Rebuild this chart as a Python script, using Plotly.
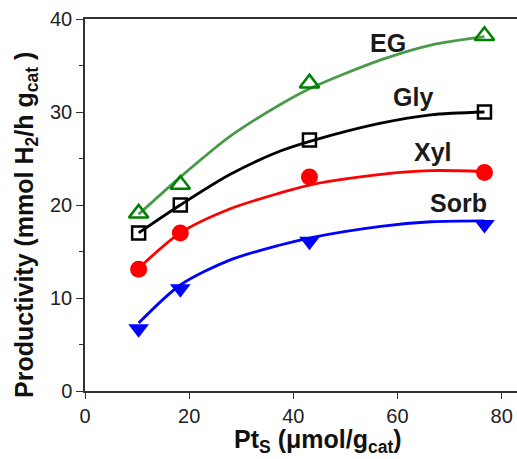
import plotly.graph_objects as go

# measured points
pt_x = [10.3, 18.3, 43.1, 76.7]
eg_y = [19.1, 22.2, 33.1, 38.2]
gly_y = [17.0, 20.0, 27.0, 30.0]
xyl_y = [13.1, 17.0, 23.0, 23.5]
sorb_y = [6.7, 11.0, 16.1, 17.9]

# fitted curves
fit_x = [10.3, 18.3, 27.9, 37.5, 43.5, 56.8, 66.4, 76.7]
eg_fit = [19.0, 23.0, 27.4, 30.8, 32.6, 35.6, 37.2, 38.1]
gly_fit = [17.0, 20.0, 23.3, 25.8, 26.9, 28.8, 29.7, 30.0]
xyl_fit = [13.2, 17.0, 19.6, 21.3, 22.2, 23.3, 23.7, 23.6]
sorb_fit = [7.3, 11.4, 14.1, 15.7, 16.5, 17.7, 18.2, 18.3]

labels = ["EG", "Gly", "Xyl", "Sorb"]
label_x = [58.1, 62.9, 66.8, 71.8]
label_y = [37.4, 31.6, 25.7, 20.2]

x_title = "<b>Pt<sub>S</sub> (\u03bcmol/g<sub>cat</sub>)</b>"
y_title = "<b>Productivity (mmol H<sub>2</sub>/h g<sub>cat</sub> )</b>"

fig = go.Figure()

series = [
    (eg_fit, eg_y, "#4a9a4a", dict(symbol="triangle-up-open", size=17, color="#008000", line=dict(width=2.5, color="#008000"))),
    (gly_fit, gly_y, "#000000", dict(symbol="square-open", size=13, color="#000000", line=dict(width=2.5, color="#000000"))),
    (xyl_fit, xyl_y, "#ff0000", dict(symbol="circle", size=17, color="#ff0000", line=dict(width=0))),
    (sorb_fit, sorb_y, "#0000ff", dict(symbol="triangle-down", size=18, color="#0000ff", line=dict(width=0))),
]

for fit, ys, lc, mk in series:
    fig.add_trace(go.Scatter(x=fit_x, y=fit, mode="lines", line=dict(color=lc, width=2.8, shape="spline", smoothing=0.8),
                             showlegend=False, hoverinfo="skip"))
for fit, ys, lc, mk in series:
    fig.add_trace(go.Scatter(x=pt_x, y=ys, mode="markers", marker=mk, showlegend=False))

for t, x, y in zip(labels, label_x, label_y):
    fig.add_annotation(x=x, y=y, text="<b>%s</b>" % t, showarrow=False,
                       font=dict(family="Liberation Sans, Arial", size=25, color="#1a1a1a"))

# axis titles as annotations (positioned like the reference)
fig.add_annotation(xref="paper", yref="paper", x=0.539, y=-0.134, text=x_title, showarrow=False,
                   xanchor="center", yanchor="middle",
                   font=dict(family="Liberation Sans, Arial", size=25, color="#111111"))
fig.add_annotation(xref="paper", yref="paper", x=-0.137, y=0.446, text=y_title, showarrow=False,
                   textangle=-90, xanchor="center", yanchor="middle",
                   font=dict(family="Liberation Sans, Arial", size=25, color="#111111"))

fig.update_layout(
    width=517, height=459,
    margin=dict(l=85, r=0, t=19, b=68),
    paper_bgcolor="white", plot_bgcolor="white",
    font=dict(family="Liberation Sans, Arial", size=20, color="#222222"),
)
fig.update_xaxes(
    range=[0, 82.95], tickvals=[0, 20, 40, 60, 80], showgrid=False, zeroline=False,
    showline=True, linecolor="#333333", linewidth=1.5, mirror=True,
    ticks="outside", ticklen=6, tickwidth=1.2, tickcolor="#333333",
)
fig.update_yaxes(
    range=[0, 40], tickvals=[0, 10, 20, 30, 40], showgrid=False, zeroline=False,
    showline=True, linecolor="#333333", linewidth=1.5,
    ticks="outside", ticklen=7, tickwidth=1.2, tickcolor="#333333",
    minor=dict(tickvals=[5, 15, 25, 35], ticks="outside", ticklen=4, tickwidth=1.2, tickcolor="#333333"),
)

fig.write_html("out.html")
